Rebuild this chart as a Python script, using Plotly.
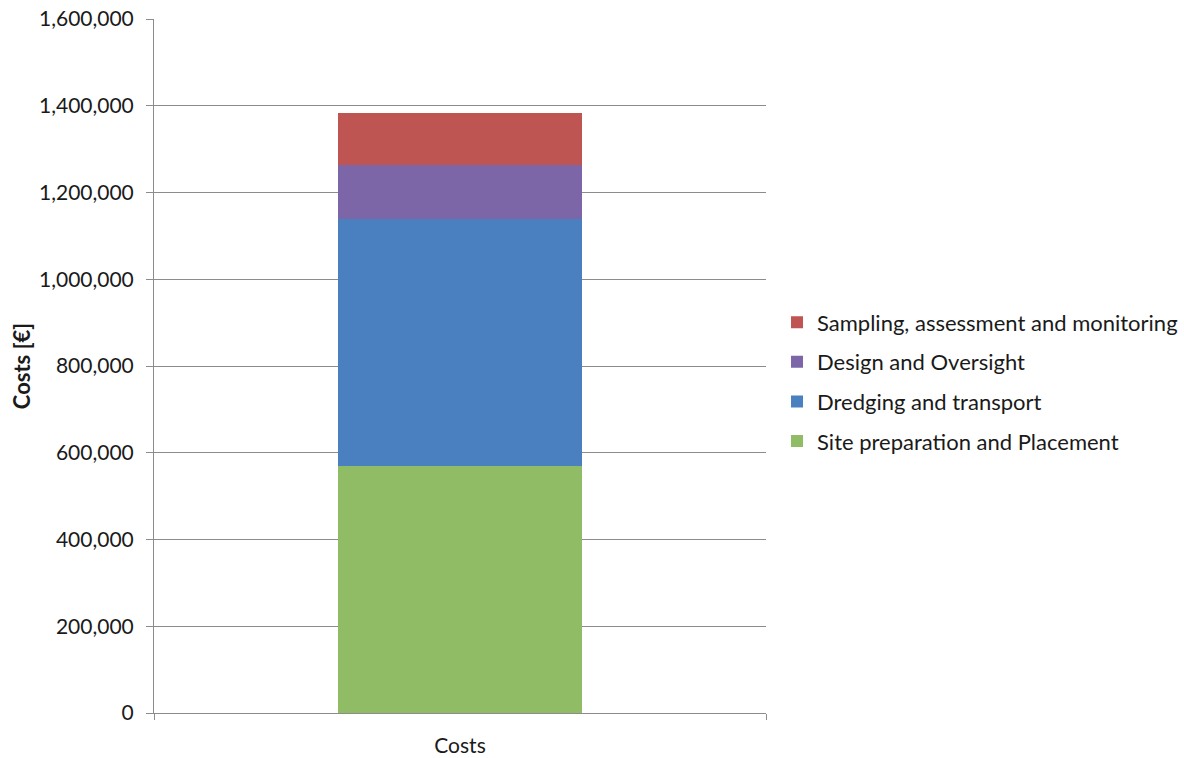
import plotly.graph_objects as go

# Cost breakdown (EUR), stacked bottom to top
category = ["Costs"]
site_preparation = [570000]
dredging_transport = [570000]
design_oversight = [124000]
sampling_monitoring = [119000]

series_names = [
    "Site preparation and Placement",
    "Dredging and transport",
    "Design and Oversight",
    "Sampling, assessment and monitoring",
]
series_values = [site_preparation, dredging_transport, design_oversight, sampling_monitoring]
series_colors = ["#8FBC65", "#4A80C0", "#7D66A8", "#BE5552"]

y_ticks = [0, 200000, 400000, 600000, 800000, 1000000, 1200000, 1400000, 1600000]

FONT = "Lato"
GRID = "#8C8C8C"
TEXT = "#1a1a1a"

fig = go.Figure()
n = len(series_names)
for i, (name, vals, col) in enumerate(zip(series_names, series_values, series_colors)):
    fig.add_trace(go.Bar(
        x=category, y=vals, name=name,
        marker=dict(color=col, line=dict(width=0)),
        legendgroup=f"g{i}",
        legendrank=n - i,  # top segment listed first
    ))

fig.update_layout(
    barmode="stack",
    bargap=0.6,
    width=1184, height=758,
    paper_bgcolor="white", plot_bgcolor="white",
    margin=dict(l=154, r=418, t=19, b=45, autoexpand=False),
    font=dict(family=FONT, size=21, color=TEXT),
    legend=dict(
        traceorder="grouped",
        tracegroupgap=8,
        x=1.018, xanchor="left", xref="paper",
        y=0.477, yanchor="middle",
        font=dict(family=FONT, size=22, color=TEXT),
        itemwidth=30,
        bgcolor="rgba(0,0,0,0)",
    ),
    showlegend=True,
)

fig.update_yaxes(
    range=[0, 1600000],
    tickvals=y_ticks,
    tickformat=",d",
    tickfont=dict(family=FONT, size=21, color=TEXT),
    showgrid=True, gridcolor=GRID, gridwidth=1,
    showline=True, linecolor=GRID, linewidth=1,
    ticks="outside", ticklen=7, tickcolor=GRID,
    ticklabelstandoff=8,
    zeroline=False,
    automargin=False,
    title=dict(text="<b>Costs [€]</b>", font=dict(family=FONT, size=22, color=TEXT), standoff=2),
)

fig.update_xaxes(
    showline=True, linecolor=GRID, linewidth=1,
    ticks="outside", ticklen=6, tickcolor=GRID,
    tickson="boundaries",
    tickfont=dict(family=FONT, size=21, color=TEXT),
    ticklabelstandoff=14,
    automargin=False,
)

fig.write_html("out.html")
